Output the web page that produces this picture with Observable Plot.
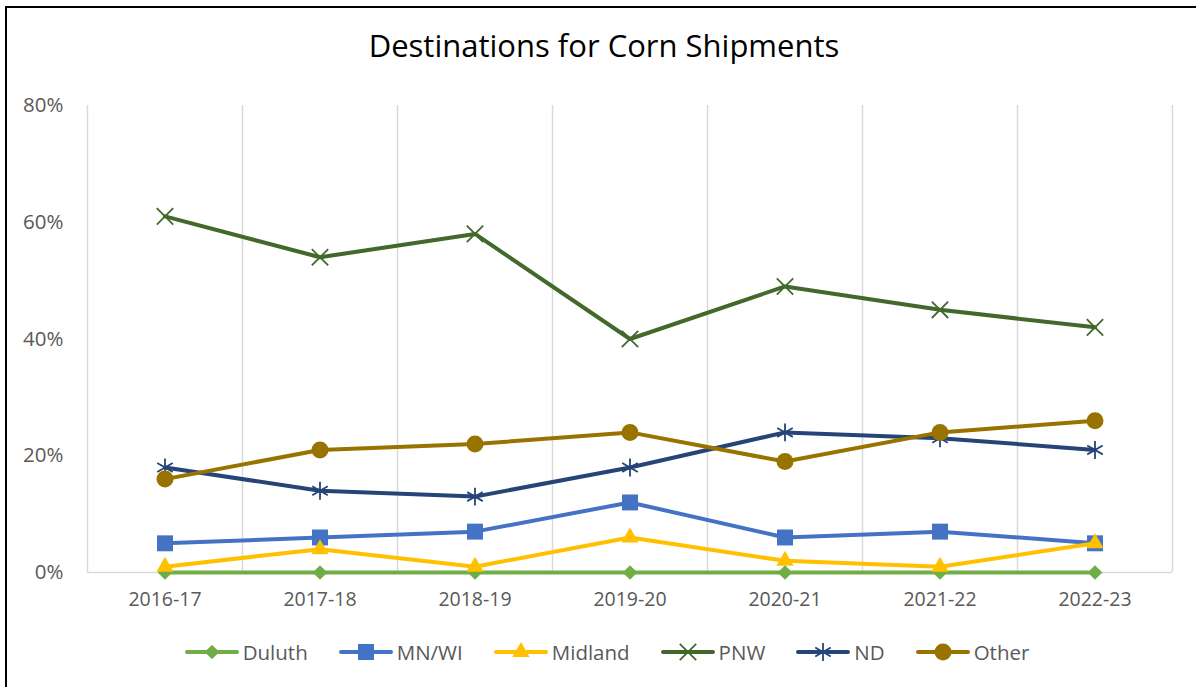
<!DOCTYPE html>
<html>
<head>
<meta charset="utf-8">
<script src="https://cdn.jsdelivr.net/npm/d3@7"></script>
<script src="https://cdn.jsdelivr.net/npm/@observablehq/plot@0.6"></script>
<style>
  html, body { margin: 0; padding: 0; background: #fff; }
  #page { position: relative; width: 1196px; height: 687px; overflow: hidden; background: #fff; font-family: "Open Sans", sans-serif; }
  #frame { position: absolute; left: 5px; top: 6px; right: -10px; bottom: -10px; border-left: 2px solid #000; border-top: 2px solid #000; }
  #title { position: absolute; left: 0; width: 1208px; top: 24px; text-align: center; font-size: 31px; line-height: 42px; color: #000; }
  #chart { position: absolute; left: 0; top: 90px; }
  #legend { position: absolute; left: 0; width: 1214px; top: 637px; display: flex; justify-content: center; align-items: center; gap: 31px; font-size: 20.5px; color: #595959; line-height: 30px; }
  .item { display: flex; align-items: center; gap: 4px; }
  .item svg { display: block; }
</style>
</head>
<body>
<div id="page">
  <div id="frame"></div>
  <div id="title">Destinations for Corn Shipments</div>
  <div id="chart"></div>
  <div id="legend"></div>
</div>
<script>
const seasons = ["2016-17", "2017-18", "2018-19", "2019-20", "2020-21", "2021-22", "2022-23"];
const seriesNames = ["Duluth", "MN/WI", "Midland", "PNW", "ND", "Other"];
const duluth  = [0, 0, 0, 0, 0, 0, 0];
const mnwi    = [0.05, 0.06, 0.07, 0.12, 0.06, 0.07, 0.05];
const midland = [0.01, 0.04, 0.01, 0.06, 0.02, 0.01, 0.05];
const pnw     = [0.61, 0.54, 0.58, 0.40, 0.49, 0.45, 0.42];
const nd      = [0.18, 0.14, 0.13, 0.18, 0.24, 0.23, 0.21];
const other   = [0.16, 0.21, 0.22, 0.24, 0.19, 0.24, 0.26];
const yTicks  = [0, 0.2, 0.4, 0.6, 0.8];

const seriesValues = [duluth, mnwi, midland, pnw, nd, other];
const colors  = ["#70AD47", "#4472C4", "#FFC000", "#43682B", "#264478", "#997300"];
const symbols = ["diamond2", "square", "triangle", "times", "asterisk", "circle"];
const radii   = [6.6, 9, 6.4, 7.5, 8.5, 8.5];
const filled  = [true, true, true, false, false, true];

const rows = [];
seriesNames.forEach((s, k) => seriesValues[k].forEach((v, i) => rows.push({series: s, k, i, season: seasons[i], value: v})));

// band boundaries between categories (derived from category indices)
const boundaries = d3.range(-0.5, seasons.length, 1);

const marks = [
  Plot.ruleX(boundaries, {x: d => d, y1: 0, y2: 0.8, stroke: "#d9d9d9", strokeWidth: 1.5}),
  Plot.ruleY([0], {stroke: "#d9d9d9", strokeWidth: 1.5}),
];
seriesNames.forEach((s, k) => {
  const data = rows.filter(d => d.k === k);
  marks.push(Plot.line(data, {x: "i", y: "value", stroke: colors[k], strokeWidth: 4, strokeLinejoin: "round", strokeLinecap: "round"}));
  if (filled[k]) {
    marks.push(Plot.dot(data, {x: "i", y: "value", symbol: symbols[k], r: radii[k], fill: colors[k], stroke: "none"}));
  } else {
    marks.push(Plot.dot(data, {x: "i", y: "value", symbol: symbols[k], r: radii[k], fill: "none", stroke: colors[k], strokeWidth: 1.8}));
  }
});

const chart = Plot.plot({
  width: 1196,
  height: 530,
  marginTop: 15,
  marginBottom: 48,
  marginLeft: 87,
  marginRight: 24,
  style: {fontFamily: "'Open Sans', sans-serif", background: "transparent", overflow: "visible"},
  x: {type: "linear", domain: [-0.5, seasons.length - 0.5], ticks: d3.range(seasons.length), tickFormat: i => seasons[i], tickSize: 0, tickPadding: 20, label: null},
  y: {domain: [0, 0.8], ticks: yTicks, tickFormat: d3.format(".0%"), tickSize: 0, tickPadding: 24, label: null},
  marks: [
    ...marks,
    Plot.axisX({ticks: d3.range(seasons.length), tickFormat: i => seasons[i], tickSize: 0, tickPadding: 20, fontSize: 19.5, fill: "#595959", label: null}),
    Plot.axisY({ticks: yTicks, tickFormat: d3.format(".0%"), tickSize: 0, tickPadding: 24, fontSize: 20.5, fill: "#595959", label: null})
  ]
});
document.getElementById("chart").appendChild(chart);

// legend
const legend = document.getElementById("legend");
seriesNames.forEach((s, k) => {
  const item = document.createElement("div");
  item.className = "item";
  const svg = d3.create("svg").attr("width", 54).attr("height", 22);
  svg.append("line").attr("x1", 2).attr("x2", 52).attr("y1", 11).attr("y2", 11)
    .attr("stroke", colors[k]).attr("stroke-width", 4).attr("stroke-linecap", "round");
  const symMap = {diamond2: d3.symbolDiamond2, square: d3.symbolSquare, triangle: d3.symbolTriangle, times: d3.symbolTimes, asterisk: d3.symbolAsterisk, circle: d3.symbolCircle};
  const p = d3.symbol(symMap[symbols[k]], Math.PI * radii[k] * radii[k])();
  const path = svg.append("path").attr("d", p).attr("transform", "translate(27,11)");
  if (filled[k]) path.attr("fill", colors[k]); else path.attr("fill", "none").attr("stroke", colors[k]).attr("stroke-width", 1.8);
  item.appendChild(svg.node());
  const label = document.createElement("span");
  label.textContent = s;
  item.appendChild(label);
  legend.appendChild(item);
});
</script>
</body>
</html>
